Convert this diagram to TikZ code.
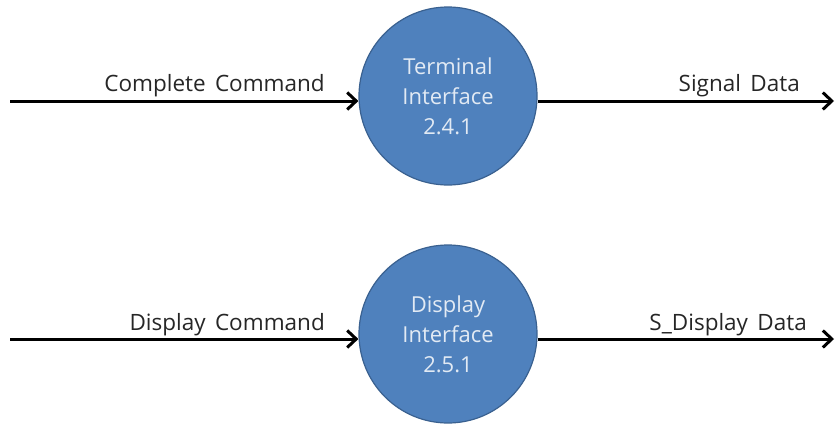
\documentclass[tikz,border=0pt]{standalone}
\usepackage{fontspec}
\setmainfont[WordSpace=1.6]{Open Sans}
\usetikzlibrary{arrows.meta}
\definecolor{procfill}{HTML}{4F81BD}
\definecolor{procdraw}{HTML}{3A6190}
\definecolor{proctext}{HTML}{E2EAF4}
\tikzset{
  proc/.style={circle, fill=procfill, draw=procdraw, line width=1.2pt, minimum size=178pt, inner sep=0pt,
    align=center, text=proctext, font=\fontsize{22}{30}\selectfont},
  flow/.style={line width=3pt, -{Straight Barb[length=9pt,width=17pt,line width=3pt]}},
  lbl/.style={font=\fontsize{22.5}{26}\selectfont, inner sep=0pt, text=black!85}
}
\begin{document}
\begin{tikzpicture}[x=1pt,y=-1pt]
\useasboundingbox (0,0) rectangle (835,423);
\node[proc] (t) at (448,96) {Terminal\\Interface\\2.4.1};
\node[proc] (d) at (448,334) {Display\\Interface\\2.5.1};
\coordinate (tin) at (10,101);
\coordinate (tout) at (834,101);
\coordinate (din) at (10,339);
\coordinate (dout) at (834,339);
\draw[flow] (tin) -- (tin -| t.west);
\draw[flow] (tout -| t.east) -- (tout);
\draw[flow] (din) -- (din -| d.west);
\draw[flow] (dout -| d.east) -- (dout);
\node[lbl, anchor=base east] (l1) at (325,91) {Complete Command};
\node[lbl, anchor=base east] (l2) at (800,91) {Signal Data};
\node[lbl, anchor=base east] (l3) at (325,330) {Display Command};
\node[lbl, anchor=base east] (l4) at (807,330) {S\_Display Data};
\end{tikzpicture}
\end{document}
